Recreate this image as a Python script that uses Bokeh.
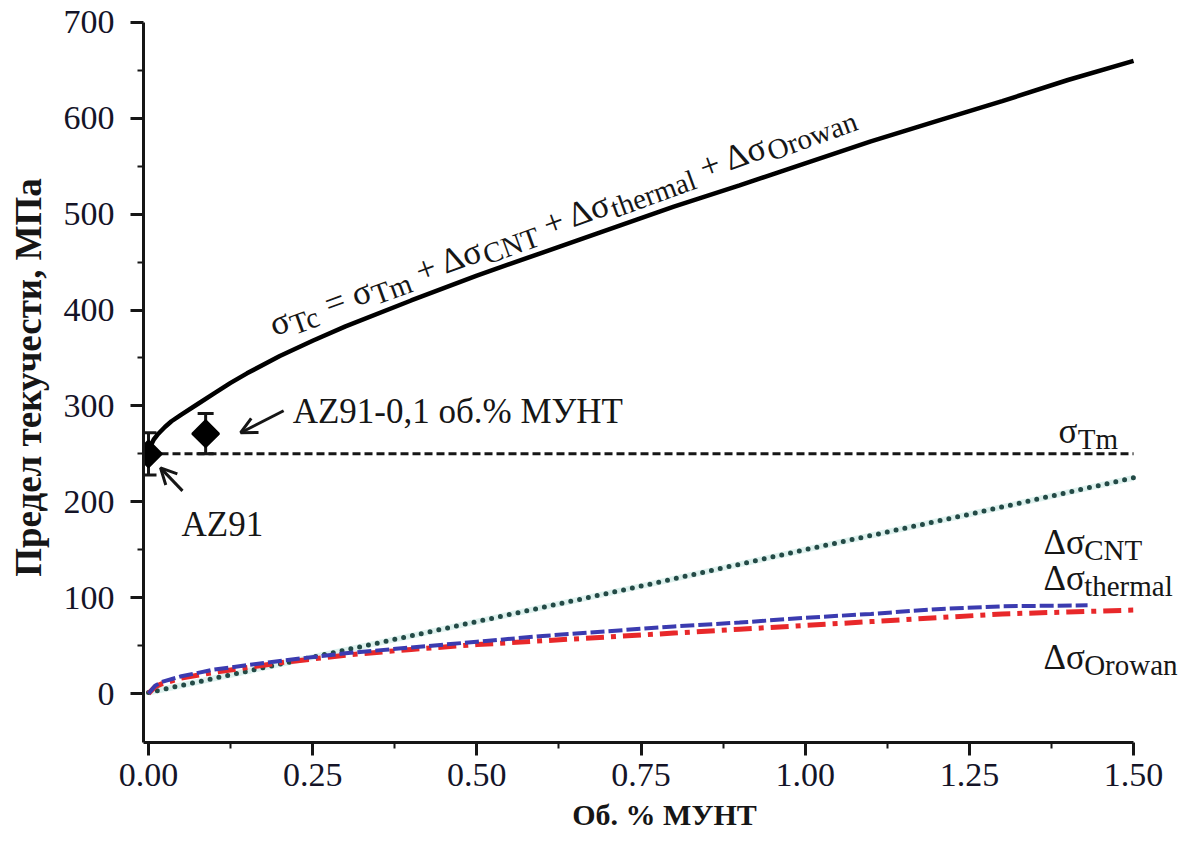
import math
from bokeh.plotting import figure
from bokeh.models import (Range1d, FixedTicker, ColumnDataSource, Whisker, TeeHead,
                          Arrow, OpenHead, Title)
from bokeh.core.properties import value, field
from bokeh.embed import file_html
from bokeh.resources import INLINE

# ---------------- data ----------------
x_ticks = [0.0, 0.25, 0.5, 0.75, 1.0, 1.25, 1.5]
x_tick_labels = ["0.00", "0.25", "0.50", "0.75", "1.00", "1.25", "1.50"]
x_minor = [0.125, 0.375, 0.625, 0.875, 1.125, 1.375]
y_ticks = [0, 100, 200, 300, 400, 500, 600, 700]
y_tick_labels = ["0", "100", "200", "300", "400", "500", "600", "700"]
y_minor = [50, 150, 250, 350, 450, 550, 650]

total_x = [0.0, 0.003, 0.008, 0.015, 0.025, 0.035, 0.05, 0.075, 0.1, 0.125, 0.15,
           0.2, 0.25, 0.3, 0.4, 0.5, 0.6, 0.7, 0.8, 0.9, 1.0, 1.1, 1.2, 1.3,
           1.4, 1.5]
total_y = [250, 258, 265, 271, 278, 284, 291, 302, 313, 324, 334,
           352, 368, 383, 410, 436, 460, 484, 508, 530, 553, 576, 597, 618,
           640, 660]

tm_x = [0.0, 1.5]
tm_y = [250, 250]

cnt_x = [0.0, 0.25, 0.5, 0.75, 1.0, 1.25, 1.5]
cnt_y = [1, 38, 75, 112, 150, 187, 225]

thermal_x = [0.0, 0.01, 0.02, 0.05, 0.1, 0.2, 0.3, 0.4, 0.5, 0.6, 0.7, 0.8, 0.9,
             1.0, 1.1, 1.2, 1.3, 1.43]
thermal_y = [0, 8, 12, 18, 25, 34, 42, 48, 54, 60, 65, 70, 74, 79, 83, 88, 91, 92]

orowan_x = [0.0, 0.01, 0.02, 0.05, 0.1, 0.2, 0.3, 0.4, 0.5, 0.6, 0.7, 0.8, 0.9,
            1.0, 1.1, 1.2, 1.3, 1.4, 1.5]
orowan_y = [0, 7, 10, 16, 22, 32, 40, 46, 51, 55, 59, 63, 67, 71, 75, 79, 83,
            85, 87]

exp_x = [0.0, 0.087]
exp_y = [250, 271]
exp_err = [22, 21]
exp_labels = ["AZ91", "AZ91-0,1 об.% МУНТ"]

x_title = "Об. % МУНТ"
y_title = "Предел текучести, МПа"

# ---------------- layout ----------------
W, H = 1192, 850
FL, FR, FT, FB = 143, 1185, 12, 742          # frame edges in px
SX = 656.7                                    # px per x unit
SY = 0.9586                                   # px per y unit
x0 = -(148 - FL) / SX
x1 = x0 + (FR - FL) / SX
y0 = -(FB - 693) / SY
y1 = y0 + (FB - FT) / SY

def to_data(px, py):
    return x0 + (px - FL) / SX, y0 + (FB - py) / SY

def to_px(x, y):
    return FL + (x - x0) * SX, FB - (y - y0) * SY

FONT = "Liberation Serif"
INK = "#161616"

p = figure(width=W, height=H, output_backend="svg", toolbar_location=None,
           x_range=Range1d(x0, x1), y_range=Range1d(y0, y1))
p.min_border = 0
p.min_border_left = FL
p.min_border_right = W - FR
p.min_border_top = FT
p.min_border_bottom = H - FB
p.outline_line_color = None
p.grid.visible = False
p.background_fill_color = "white"
p.border_fill_color = "white"

p.xaxis.ticker = FixedTicker(ticks=x_ticks, minor_ticks=x_minor)
p.yaxis.ticker = FixedTicker(ticks=y_ticks, minor_ticks=y_minor)
p.xaxis.major_label_overrides = {t: l for t, l in zip(x_ticks, x_tick_labels)}
p.yaxis.major_label_overrides = {t: l for t, l in zip(y_ticks, y_tick_labels)}
p.xaxis.bounds = (x0, 1.5)
p.yaxis.bounds = (y0, 700)

for ax in (p.xaxis[0], p.yaxis[0]):
    ax.axis_line_width = 3
    ax.axis_line_color = INK
    ax.major_tick_line_width = 3
    ax.major_tick_line_color = INK
    ax.minor_tick_line_width = 2
    ax.minor_tick_line_color = INK
    ax.major_tick_out = 13
    ax.major_tick_in = 0
    ax.minor_tick_out = 6
    ax.minor_tick_in = 0
    ax.major_label_text_font = FONT
    ax.major_label_text_font_size = "34px"
    ax.major_label_text_color = "#141428"
    ax.axis_label_text_font = FONT
    ax.axis_label_text_font_style = "bold"
    ax.axis_label_text_color = INK

p.yaxis.axis_label = y_title
p.yaxis.axis_label_text_font_size = "37px"
p.xaxis.major_label_standoff = 8
p.yaxis.major_label_standoff = 16
p.yaxis.axis_label_standoff = 12

xt = Title(text=x_title, align="center", offset=-24, standoff=14,
           text_font=FONT, text_font_size="30px", text_font_style="bold",
           text_color=INK)
p.add_layout(xt, "below")

# ---------------- curves ----------------
p.line(cnt_x, cnt_y, line_color="#b6e0da", line_width=6, line_alpha=0.45)
p.line(cnt_x, cnt_y, line_color="#234a46", line_width=5, line_dash="0 9",
       line_cap="round")
p.line(orowan_x, orowan_y, line_color="#e8282a", line_width=5, line_dash="18 7 5 7")
p.line(thermal_x, thermal_y, line_color="#3b3bb0", line_width=4, line_dash="14 4")
p.line(tm_x, tm_y, line_color=INK, line_width=3, line_dash="8 4")
p.line(total_x, total_y, line_color="black", line_width=4.5)

# ---------------- experimental points ----------------
src = ColumnDataSource(dict(x=exp_x, y=exp_y,
                            upper=[v + e for v, e in zip(exp_y, exp_err)],
                            lower=[v - e for v, e in zip(exp_y, exp_err)]))
p.add_layout(Whisker(source=src, base="x", upper="upper", lower="lower",
                     dimension="height", line_width=3, line_color=INK,
                     upper_head=TeeHead(size=16, line_width=3, line_color=INK),
                     lower_head=TeeHead(size=16, line_width=3, line_color=INK)))
p.scatter("x", "y", source=src, marker="square", angle=math.pi / 4, size=19,
          fill_color="black", line_color="black", line_width=2)

# arrows and labels relative to the points (screen-pixel offsets)
arrow_geo = [((12, 14), (34, 37)), ((35, -1), (78, -23))]   # (tip offset, tail offset)
label_geo = [(33, 71), (87, -22)]                           # label start offset (px)
for i in range(len(exp_x)):
    mx, my = to_px(exp_x[i], exp_y[i])
    (tdx, tdy), (sdx, sdy) = arrow_geo[i]
    xe, ye = to_data(mx + tdx, my + tdy)
    xs, ys = to_data(mx + sdx, my + sdy)
    p.add_layout(Arrow(x_start=xs, y_start=ys, x_end=xe, y_end=ye,
                       line_width=3, line_color=INK,
                       end=OpenHead(size=16, line_width=3, line_color=INK)))
    lx, ly = to_data(mx + label_geo[i][0], my + label_geo[i][1])
    p.text(x=[lx], y=[ly], text=[exp_labels[i]], text_font=value(FONT),
           text_font_size="35px", text_color=INK, text_baseline="alphabetic",
           text_align="left")

# ---------------- subscripted labels ----------------
SHIFT = 7
WID = {' ': 250, '=': 564, '+': 564, 'σ': 550, 'Δ': 612, 'T': 611, 'c': 444,
       'm': 778, 'C': 667, 'N': 722, 'O': 722, 'h': 500, 'e': 444, 'r': 333,
       'a': 444, 'l': 278, 't': 278, 'o': 500, 'w': 722, 'n': 500}

def text_w(s, size):
    return sum(WID.get(ch, 500) for ch in s) * size / 1000.0

rows = dict(x=[], y=[], text=[], size=[], angle=[])

def place(pieces, px, py, deg, main, sub):
    a = math.radians(deg)
    d = 0.0
    for s, is_sub in pieces:
        size = sub if is_sub else main
        sh = SHIFT if is_sub else 0
        lead = len(s) - len(s.lstrip(" "))
        d += text_w(" " * lead, size)
        s = s.strip(" ")
        sx = px + d * math.cos(a) + sh * math.sin(a)
        sy = py - d * math.sin(a) + sh * math.cos(a)
        x, y = to_data(sx, sy)
        rows["x"].append(x)
        rows["y"].append(y)
        rows["text"].append(s)
        rows["size"].append(f"{size}px")
        rows["angle"].append(a)
        d += text_w(s, size)

place([("σ", 0), ("Tc", 1), (" = σ", 0), ("Tm", 1), (" + Δσ", 0), ("CNT", 1),
       (" + Δσ", 0), ("thermal", 1), (" + Δσ", 0), ("Orowan", 1)],
      270, 325, 20, 35, 29)
place([("σ", 0), ("Tm", 1)], 1058, 431, 0, 35, 29)
place([("Δσ", 0), ("CNT", 1)], 1043, 542, 0, 35, 29)
place([("Δσ", 0), ("thermal", 1)], 1043, 578, 0, 35, 29)
place([("Δσ", 0), ("Orowan", 1)], 1043, 657, 0, 35, 29)

p.text(x="x", y="y", text="text", angle="angle", source=ColumnDataSource(rows),
       text_font=value(FONT), text_font_size=field("size"), text_color=INK,
       text_baseline="alphabetic", text_align="left")

open("out.html", "w").write(file_html(p, INLINE))
